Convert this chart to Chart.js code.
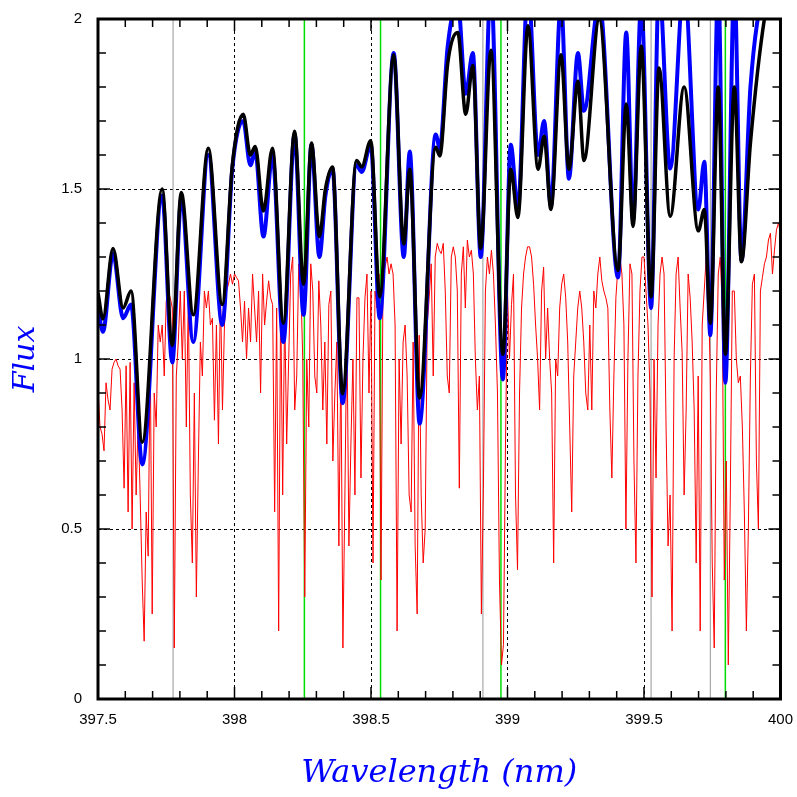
<!DOCTYPE html>
<html>
<head>
<meta charset="utf-8">
<script src="https://cdn.jsdelivr.net/npm/chart.js@4.4.0/dist/chart.umd.min.js"></script>
<style>
  html, body { margin: 0; padding: 0; background: #fff; }
  #wrap { width: 797px; height: 797px; }
</style>
</head>
<body>
<div id="wrap"><canvas id="spec" width="797" height="797"></canvas></div>
<script>
// smoothed spectra
const model_wl = [397.500,397.518,397.555,397.592,397.621,397.662,397.735,397.772,397.805,397.849,
  397.904,397.955,397.992,398.032,398.058,398.076,398.106,398.139,398.179,398.220,
  398.253,398.282,398.311,398.333,398.359,398.396,398.447,398.466,398.499,398.532,
  398.583,398.620,398.642,398.678,398.737,398.752,398.781,398.818,398.847,398.873,
  398.902,398.939,398.983,399.012,399.038,399.075,399.112,399.134,399.159,399.196,
  399.225,399.258,399.280,399.336,399.405,399.435,399.460,399.490,399.526,399.555,
  399.596,399.647,399.699,399.721,399.743,399.772,399.798,399.831,399.857,399.890,
  399.941,400.000];
const black_flux = [1.195,1.118,1.325,1.15,1.20,0.755,1.50,1.04,1.49,1.13,
  1.62,1.16,1.57,1.72,1.60,1.625,1.435,1.62,1.105,1.67,
  1.22,1.635,1.36,1.50,1.565,0.898,1.584,1.565,1.642,1.183,
  1.895,1.338,1.558,0.885,1.623,1.597,1.869,1.96,1.72,1.863,
  1.325,1.908,1.014,1.558,1.416,1.98,1.558,1.655,1.44,1.895,
  1.558,1.817,1.584,1.999,1.26,1.75,1.39,1.92,1.183,1.856,
  1.42,1.80,1.377,1.44,1.105,1.80,1.014,1.80,1.286,1.636,
  2.0,2.2];
const blue_flux = [1.15,1.08,1.31,1.12,1.16,0.69,1.48,0.99,1.47,1.05,
  1.60,1.10,1.56,1.70,1.57,1.61,1.36,1.60,1.05,1.66,
  1.13,1.63,1.30,1.48,1.56,0.87,1.57,1.55,1.63,1.12,
  1.90,1.30,1.61,0.81,1.66,1.62,1.92,2.05,1.78,1.90,
  1.30,2.10,0.94,1.63,1.44,2.10,1.60,1.70,1.45,2.05,
  1.53,1.90,1.73,2.05,1.24,1.96,1.41,2.05,1.15,2.10,
  1.56,2.10,1.44,1.58,1.07,2.10,0.93,2.10,1.29,1.80,
  2.10,2.20];

// high resolution spectrum, evenly sampled from 397.5 to 400 nm
const hires_flux = [0.91,0.80,0.78,0.73,0.93,0.88,0.85,0.97,0.99,1.00,0.98,0.97,0.85,0.62,0.98,0.55,0.99,0.50,
  0.93,0.60,0.82,0.60,0.35,0.17,0.55,0.42,1.03,0.25,0.90,0.80,1.10,1.05,1.10,0.95,
  1.17,1.20,1.18,1.15,0.15,0.95,1.05,1.20,1.00,1.20,0.80,1.18,0.60,0.40,0.90,0.30,0.70,1.05,0.95,1.20,
  1.15,1.20,1.10,1.12,0.82,1.10,0.75,1.20,0.85,1.10,1.20,1.22,1.25,1.22,1.25,1.24,1.23,1.15,1.05,1.17,
  1.00,1.15,1.05,1.25,1.15,1.05,1.20,0.90,1.25,1.10,
  1.17,1.23,1.18,1.16,0.55,1.15,0.20,1.20,0.60,1.15,0.75,1.00,1.25,1.30,0.85,0.95,1.28,1.23,1.00,0.30,
  1.00,0.80,1.28,1.20,0.95,0.90,1.23,1.10,
  0.85,1.05,0.75,1.16,1.20,0.70,0.90,1.05,0.45,1.00,0.15,0.60,1.10,0.45,0.75,1.00,0.60,1.18,1.18,0.65,
  1.00,1.18,1.25,0.90,1.20,0.40,1.20,1.15,1.25,0.35,1.25,1.27,1.30,1.25,1.28,1.25,1.10,0.20,1.00,0.75,
  1.05,1.10,0.95,0.60,0.55,1.05,0.45,0.25,1.07,0.60,0.40,0.50,1.10,1.18,1.28,0.95,1.30,1.34,1.32,1.31,
  1.34,1.20,0.95,0.90,1.30,1.33,1.30,1.20,0.62,1.25,1.33,1.15,1.35,1.30,1.32,1.25,1.00,0.85,0.95,0.25,
  0.62,1.20,1.30,1.25,1.32,1.25,1.10,0.90,0.35,0.10,0.16,0.75,1.20,1.00,1.16,1.25,0.60,0.38,0.90,1.15,
  1.25,1.30,1.33,1.33,1.30,1.22,1.10,1.00,0.85,1.20,1.27,1.00,1.15,1.00,0.90,
  0.40,1.00,0.95,1.15,1.22,1.25,1.18,1.05,0.80,0.55,0.95,1.05,1.15,1.20,1.15,1.05,0.90,0.85,1.10,0.85,
  1.20,1.15,1.25,1.30,1.23,1.20,1.18,1.15,0.85,0.65,0.95,1.18,1.27,1.30,1.25,1.10,0.50,1.00,1.28,1.25,
  0.70,0.40,0.95,1.20,1.30,1.30,1.20,1.10,0.90,0.30,1.00,0.65,1.10,1.25,1.30,1.25,0.80,0.45,0.60,0.20,
  1.00,1.25,1.30,1.15,1.02,0.60,0.85,1.25,1.18,1.05,0.85,0.40,0.95,0.20,1.10,1.20,1.30,1.25,0.95,0.40,
  0.15,0.90,1.25,1.30,1.15,0.35,0.70,0.10,0.60,1.20,1.20,1.00,0.93,0.95,0.80,0.55,0.20,0.50,0.95,1.22,
  1.25,0.70,0.50,1.20,1.24,1.28,1.30,1.35,1.37,1.25,1.32,1.38,1.40,1.37];

// line marker positions (nm)
const gray_lines = [397.775, 398.910, 399.526, 399.743];
const green_lines = [398.256, 398.535, 398.976, 399.798];

const x_ticks = [397.5, 398, 398.5, 399, 399.5, 400];
const y_ticks = [0, 0.5, 1, 1.5, 2];

const hires_step = 2.5 / (hires_flux.length - 1);
const hires_points = hires_flux.map((f, i) => ({x: 397.5 + i * hires_step, y: f}));

function marker(wl, color, width) {
    return {
        data: [{x: wl, y: 0}, {x: wl, y: 2}],
        borderColor: color, borderWidth: width,
        pointRadius: 0, order: 5
    };
}

let datasets = [];
gray_lines.forEach(w => datasets.push(marker(w, 'rgb(150,150,150)', 1)));
green_lines.forEach(w => datasets.push(marker(w, 'rgb(0,220,0)', 1.5)));
datasets.push({
    data: hires_points, borderColor: 'rgb(255,0,0)', borderWidth: 1,
    pointRadius: 0, tension: 0, order: 3
});
datasets.push({
    data: model_wl.map((w, i) => ({x: w, y: blue_flux[i]})),
    borderColor: 'rgb(0,0,255)', borderWidth: 4,
    pointRadius: 0, cubicInterpolationMode: 'monotone', order: 2
});
datasets.push({
    data: model_wl.map((w, i) => ({x: w, y: black_flux[i]})),
    borderColor: 'rgb(0,0,0)', borderWidth: 3.5,
    pointRadius: 0, cubicInterpolationMode: 'monotone', order: 1
});

// dashed grid + inward ticks on all four sides
const frame_plugin = {
    id: 'frame',
    beforeDatasetsDraw(chart) {
        const {ctx, chartArea: a, scales: {x, y}} = chart;
        ctx.save();
        ctx.strokeStyle = '#000';
        ctx.lineWidth = 1;
        ctx.setLineDash([3, 3]);
        y_ticks.slice(1, -1).forEach(v => {
            const py = Math.round(y.getPixelForValue(v)) + 0.5;
            ctx.beginPath(); ctx.moveTo(a.left, py); ctx.lineTo(a.right, py); ctx.stroke();
        });
        x_ticks.slice(1, -1).forEach(v => {
            const px = Math.round(x.getPixelForValue(v)) + 0.5;
            ctx.beginPath(); ctx.moveTo(px, a.top); ctx.lineTo(px, a.bottom); ctx.stroke();
        });
        ctx.restore();
    },
    afterDatasetsDraw(chart) {
        const {ctx, chartArea: a, scales: {x, y}} = chart;
        ctx.save();
        ctx.strokeStyle = '#000';
        ctx.lineWidth = 1.5;
        for (let i = 1; i < 25; i++) {
            const px = x.getPixelForValue(397.5 + i * 0.1);
            const len = i % 5 === 0 ? 12 : 8;
            ctx.beginPath();
            ctx.moveTo(px, a.bottom); ctx.lineTo(px, a.bottom - len);
            ctx.moveTo(px, a.top); ctx.lineTo(px, a.top + len);
            ctx.stroke();
        }
        for (let i = 1; i < 20; i++) {
            const py = y.getPixelForValue(i * 0.1);
            const len = i % 5 === 0 ? 12 : 8;
            ctx.beginPath();
            ctx.moveTo(a.left, py); ctx.lineTo(a.left + len, py);
            ctx.moveTo(a.right, py); ctx.lineTo(a.right - len, py);
            ctx.stroke();
        }
        ctx.lineWidth = 3;
        ctx.strokeRect(a.left, a.top, a.right - a.left, a.bottom - a.top);
        ctx.restore();
    }
};

new Chart(document.getElementById('spec'), {
    type: 'line',
    data: {datasets: datasets},
    plugins: [frame_plugin],
    options: {
        responsive: false,
        animation: false,
        layout: {padding: {top: 19, right: 4, left: 0, bottom: 0}},
        plugins: {legend: {display: false}, tooltip: {enabled: false}},
        scales: {
            x: {
                type: 'linear', min: 397.5, max: 400,
                afterBuildTicks: s => { s.ticks = x_ticks.map(v => ({value: v})); },
                afterFit: s => { s.height = 98; },
                grid: {display: false},
                border: {display: false},
                ticks: {color: '#000', font: {family: 'Liberation Sans', size: 15}, padding: 4,
                    maxRotation: 0, callback: v => String(v)},
                title: {
                    display: true, text: 'Wavelength (nm)', color: 'rgb(0,0,255)',
                    font: {family: 'DejaVu Serif', style: 'italic', size: 32}, padding: {top: 2}
                }
            },
            y: {
                min: 0, max: 2,
                afterBuildTicks: s => { s.ticks = y_ticks.map(v => ({value: v})); },
                afterFit: s => { s.width = 98; },
                grid: {display: false},
                border: {display: false},
                ticks: {color: '#000', font: {family: 'Liberation Sans', size: 15}, padding: 8,
                    callback: v => String(v)},
                title: {
                    display: true, text: 'Flux', color: 'rgb(0,0,255)',
                    font: {family: 'DejaVu Serif', style: 'italic', size: 30}, padding: {top: 8, bottom: 16}
                }
            }
        }
    }
});
</script>
</body>
</html>
